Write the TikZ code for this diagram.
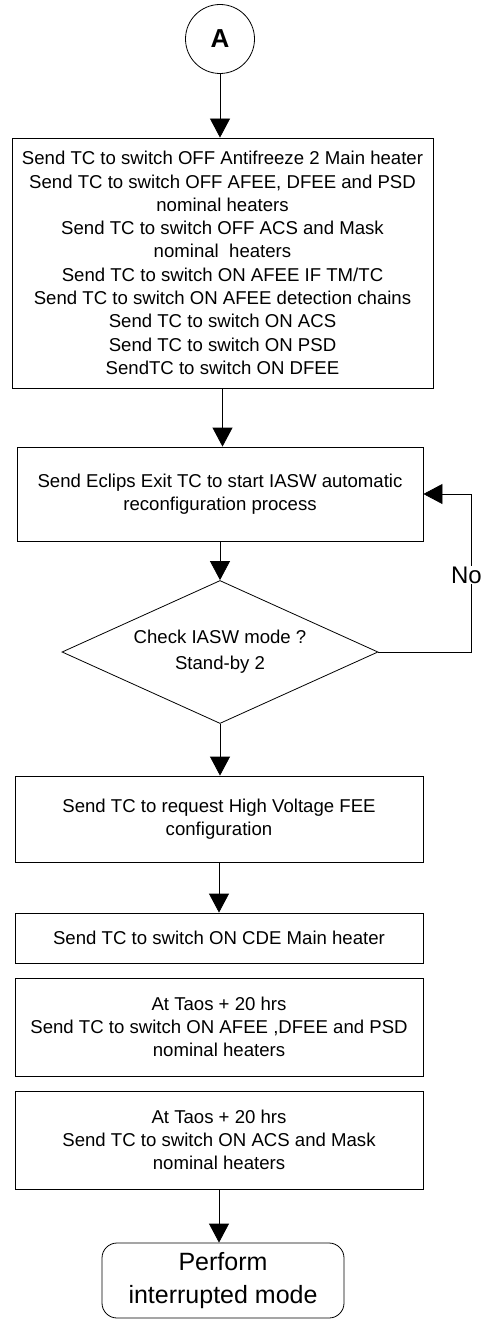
\documentclass[tikz,border=0pt]{standalone}
\usepackage{fontspec}
\setmainfont{Liberation Sans}
\usetikzlibrary{arrows.meta,shapes.geometric}
\tikzset{
  box/.style={draw, rectangle, inner sep=0pt, align=center, line width=0.8pt,
    font=\fontsize{18.6}{23.3}\selectfont},
  decision/.style={draw, diamond, inner sep=0pt, align=center, line width=0.8pt,
    font=\fontsize{18.6}{26}\selectfont},
  term/.style={draw, rectangle, rounded corners=15pt, inner sep=0pt, align=center,
    line width=0.8pt, font=\fontsize{25}{33}\selectfont},
  conn/.style={draw, circle, inner sep=0pt, line width=0.8pt,
    font=\fontsize{26}{30}\selectfont\bfseries},
  flow/.style={line width=0.8pt, -{Triangle[width=20pt,length=19pt]}},
  lbl/.style={fill=white, inner sep=1pt, font=\fontsize{24}{30}\selectfont}
}
\begin{document}
\begin{tikzpicture}[x=1pt,y=-1pt]
\useasboundingbox (0,0) rectangle (484,1321);
\node[conn, minimum size=69pt] (A) at (220,39) {A};
\node[box, minimum width=421pt, minimum height=250pt] (b1) at (222.5,263)
 {Send TC to switch OFF Antifreeze 2 Main heater\\
  Send TC to switch OFF AFEE, DFEE and PSD\\
  nominal heaters\\
  Send TC to switch OFF ACS and Mask\\
  nominal\ \ heaters\\
  Send TC to switch ON AFEE IF TM/TC\\
  Send TC to switch ON AFEE detection chains\\
  Send TC to switch ON ACS\\
  Send TC to switch ON PSD\\
  SendTC to switch ON DFEE};
\node[box, minimum width=406pt, minimum height=94pt] (b2) at (220,494)
 {Send Eclips Exit TC to start IASW automatic\\ reconfiguration process};
\node[decision, minimum width=316pt, minimum height=143pt, aspect=2.2] (d) at (220,652)
 {Check IASW mode ?\\ Stand-by 2};
\node[box, minimum width=408pt, minimum height=86pt] (b3) at (219,819)
 {Send TC to request High Voltage FEE\\ configuration};
\node[box, minimum width=408pt, minimum height=50pt] (b4) at (219,938)
 {Send TC to switch ON CDE Main heater};
\node[box, minimum width=408pt, minimum height=98pt] (b5) at (219,1027)
 {At Taos + 20 hrs\\ Send TC to switch ON AFEE ,DFEE and PSD\\ nominal heaters};
\node[box, minimum width=408pt, minimum height=98pt] (b6) at (219,1140)
 {At Taos + 20 hrs\\ Send TC to switch ON ACS and Mask\\ nominal heaters};
\node[term, minimum width=242pt, minimum height=75pt] (t) at (223,1280.5)
 {Perform\\ interrupted mode};
\coordinate (lp) at (471,652);
\draw[flow] (A.south) -- (A.south |- b1.north);
\draw[flow] (b1.south) -- (b1.south |- b2.north);
\draw[flow] (b2.south) -- (d.north);
\draw[flow] (d.south) -- (d.south |- b3.north);
\draw[flow] (b3.south) -- (b4.north);
\draw[flow] (b6.south) -- (b6.south |- t.north);
\draw[flow] (d.east) -- (lp) -- (lp |- b2.east) -- (b2.east);
\node[lbl, anchor=east] (no) at (483,575) {No};
\end{tikzpicture}
\end{document}
